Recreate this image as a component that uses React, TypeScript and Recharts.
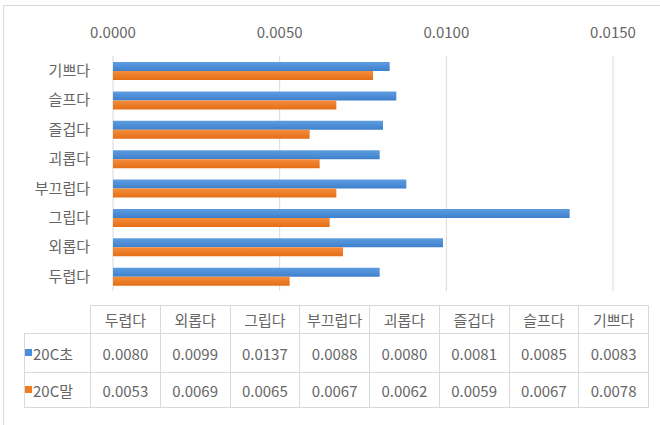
import { BarChart, Bar, XAxis, YAxis, CartesianGrid } from "recharts"

// table order (chart shows them bottom-up)
const categories = ["두렵다", "외롭다", "그립다", "부끄럽다", "괴롭다", "즐겁다", "슬프다", "기쁘다"]
const early20c = [0.008, 0.0099, 0.0137, 0.0088, 0.008, 0.0081, 0.0085, 0.0083]
const late20c = [0.0053, 0.0069, 0.0065, 0.0067, 0.0062, 0.0059, 0.0067, 0.0078]
const seriesNames = ["20C초", "20C말"]
const xTicks = [0, 0.005, 0.01, 0.015]

const data = categories.map((name, i) => ({
  name,
  early: early20c[i],
  late: late20c[i],
}))

const FONT = '"Noto Sans CJK KR", "Noto Sans", sans-serif'
const TEXT = "#666666"
const GRID = "#d9d9d9"
const BLUE = "#4a8dd8"
const ORANGE = "#f07c22"

const fmt = (v: number) => v.toFixed(4)

export default function App() {
  const cellBorder = `1px solid ${GRID}`
  const rows = [
    { label: seriesNames[0], color: BLUE, values: early20c, height: 39 },
    { label: seriesNames[1], color: ORANGE, values: late20c, height: 35 },
  ]

  return (
    <div
      style={{
        position: "absolute",
        left: 0,
        top: 0,
        width: 660,
        height: 425,
        background: "#fff",
        fontFamily: FONT,
        overflow: "hidden",
      }}
    >
      <div
        style={{
          position: "absolute",
          left: 3,
          top: 5,
          width: 670,
          height: 440,
          border: `1px solid ${GRID}`,
        }}
      />
      <div style={{ position: "absolute", left: 0, top: 0 }}>
        <BarChart
          width={660}
          height={300}
          data={data}
          layout="vertical"
          margin={{ top: 26, right: 47, bottom: 9, left: 13 }}
          barSize={9}
          barGap={0}
        >
          <defs>
            <linearGradient id="gBlue" x1="0" y1="0" x2="0" y2="1">
              <stop offset="0%" stopColor="#5d9de2" />
              <stop offset="100%" stopColor="#3f80cc" />
            </linearGradient>
            <linearGradient id="gOrange" x1="0" y1="0" x2="0" y2="1">
              <stop offset="0%" stopColor="#f58d3a" />
              <stop offset="100%" stopColor="#e46e17" />
            </linearGradient>
          </defs>
          <CartesianGrid horizontal={false} stroke={GRID} />
          <XAxis
            type="number"
            orientation="top"
            height={30}
            domain={[0, 0.015]}
            ticks={xTicks}
            tickFormatter={fmt}
            axisLine={false}
            tickLine={false}
            tickMargin={12}
            tick={{ fill: TEXT, fontSize: 15, fontFamily: FONT }}
          />
          <YAxis
            type="category"
            dataKey="name"
            reversed
            width={100}
            axisLine={false}
            tickLine={false}
            tickMargin={17}
            tick={{ fill: TEXT, fontSize: 15, fontFamily: FONT }}
          />
          <Bar dataKey="early" name={seriesNames[0]} fill="url(#gBlue)" isAnimationActive={false} />
          <Bar dataKey="late" name={seriesNames[1]} fill="url(#gOrange)" isAnimationActive={false} />
        </BarChart>
      </div>
      <table
        style={{
          position: "absolute",
          left: 24,
          top: 305,
          borderCollapse: "collapse",
          tableLayout: "fixed",
          width: 624,
          color: TEXT,
          fontSize: 15,
          fontFamily: FONT,
        }}
      >
        <colgroup>
          <col style={{ width: 66 }} />
          {categories.map((c) => (
            <col key={c} style={{ width: 69.75 }} />
          ))}
        </colgroup>
        <tbody>
          <tr style={{ height: 28 }}>
            <td style={{ padding: 0 }} />
            {categories.map((c) => (
              <td key={c} style={{ border: cellBorder, textAlign: "center", padding: 0 }}>
                {c}
              </td>
            ))}
          </tr>
          {rows.map((r) => (
            <tr key={r.label} style={{ height: r.height }}>
              <td style={{ border: cellBorder, padding: 0, whiteSpace: "nowrap" }}>
                <span
                  style={{
                    display: "inline-block",
                    width: 7,
                    height: 7,
                    background: r.color,
                    position: "relative",
                    top: -4,
                    marginRight: 1,
                  }}
                />
                {r.label}
              </td>
              {r.values.map((v, i) => (
                <td key={i} style={{ border: cellBorder, textAlign: "center", padding: 0 }}>
                  {fmt(v)}
                </td>
              ))}
            </tr>
          ))}
        </tbody>
      </table>
    </div>
  )
}
